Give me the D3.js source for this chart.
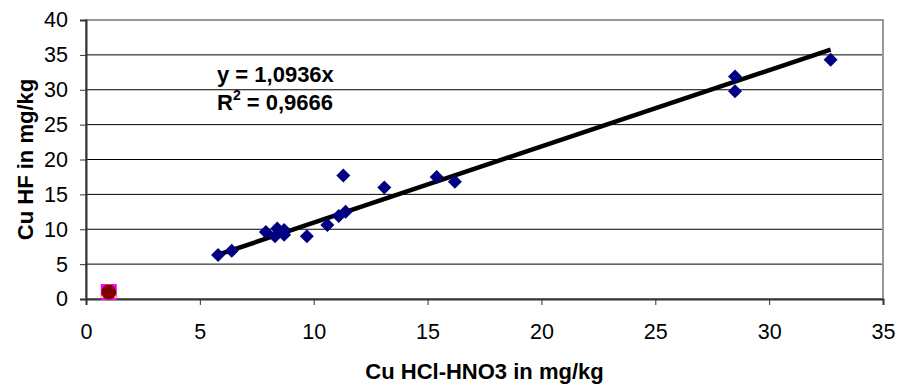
<!DOCTYPE html>
<html>
<head>
<meta charset="utf-8">
<script src="https://cdn.jsdelivr.net/npm/d3@7"></script>
<style>
  body { margin: 0; background: #fff; }
  text { font-family: "Liberation Sans", Arial, sans-serif; fill: #000; }
  .title { font-size: 22px; font-weight: bold; }
  .eq { font-size: 22px; font-weight: bold; }
</style>
</head>
<body>
<div id="chart"></div>
<script>
// measured values (HCl-HNO3 vs HF)
var cuAqua = [5.8, 6.4, 7.9, 8.4, 8.3, 8.7, 8.7, 9.7, 10.6, 11.1, 11.4, 11.3, 13.1, 15.4, 16.2, 28.5, 28.5, 32.7];
var cuHF   = [6.3, 6.9, 9.6, 10.1, 9.0, 9.2, 9.9, 9.0, 10.6, 11.9, 12.5, 17.7, 16.0, 17.5, 16.8, 31.9, 29.8, 34.3];
// extra series sitting on the origin corner
var extraX = [1];
var extraY = [1];
var slope = 1.0936;
var xTicks = [0, 5, 10, 15, 20, 25, 30, 35];
var yTicks = [0, 5, 10, 15, 20, 25, 30, 35, 40];

var width = 901, height = 388;
var margin = { top: 20, right: 18, bottom: 89, left: 86 };
var w = width - margin.left - margin.right,
    h = height - margin.top - margin.bottom;

var svg = d3.select("#chart").append("svg")
    .attr("width", width)
    .attr("height", height);

var g = svg.append("g")
    .attr("transform", "translate(" + margin.left + "," + margin.top + ")");

var x = d3.scaleLinear().domain([0, 35]).range([0, w]);
var y = d3.scaleLinear().domain([0, 40]).range([h, 0]);

// grid lines
g.selectAll(".grid")
  .data(yTicks.filter(function(d) { return d > 0 && d < 40; }))
  .enter().append("line")
    .attr("x1", 0).attr("x2", w)
    .attr("y1", function(d) { return y(d); })
    .attr("y2", function(d) { return y(d); })
    .attr("stroke", "#000")
    .attr("stroke-width", 1);

// plot border (top/right gray)
g.append("rect")
    .attr("x", 0).attr("y", 0)
    .attr("width", w).attr("height", h)
    .attr("fill", "none")
    .attr("stroke", "#999")
    .attr("stroke-width", 2);

// axes
var xAxis = g.append("g")
    .attr("transform", "translate(0," + h + ")")
    .call(d3.axisBottom(x).tickValues(xTicks).tickSize(6).tickPadding(19));
var yAxis = g.append("g")
    .call(d3.axisLeft(y).tickValues(yTicks).tickSize(6).tickPadding(12));

[xAxis, yAxis].forEach(function(a) {
  a.attr("font-size", null).attr("font-family", null);
  a.select(".domain").attr("stroke", "#333").attr("stroke-width", 2);
  a.selectAll(".tick line").attr("stroke", "#333");
  a.selectAll(".tick text").attr("fill", "#000").style("font-size", "21.5px");
});

// trend line
var xmin = d3.min(cuAqua), xmax = d3.max(cuAqua);
g.append("line")
    .attr("x1", x(xmin)).attr("y1", y(slope * xmin))
    .attr("x2", x(xmax)).attr("y2", y(slope * xmax))
    .attr("stroke", "#000")
    .attr("stroke-width", 4.5);

// diamonds
g.selectAll(".dot")
  .data(cuAqua.map(function(v, i) { return [v, cuHF[i]]; }))
  .enter().append("path")
    .attr("d", d3.symbol().type(d3.symbolDiamond2).size(125))
    .attr("transform", function(d) { return "translate(" + x(d[0]) + "," + y(d[1]) + ")"; })
    .attr("fill", "#000080");

// extra series markers at (1,1)
var extra = extraX.map(function(v, i) { return [v, extraY[i]]; });
g.selectAll(".sq").data(extra).enter().append("rect")
    .attr("x", function(d) { return x(d[0]) - 8; })
    .attr("y", function(d) { return y(d[1]) - 8; })
    .attr("width", 16).attr("height", 16)
    .attr("fill", "#ff00ff");
g.selectAll(".tri").data(extra).enter().append("path")
    .attr("d", d3.symbol().type(d3.symbolTriangle).size(120))
    .attr("transform", function(d) { return "translate(" + x(d[0]) + "," + (y(d[1]) + 1) + ")"; })
    .attr("fill", "#ffff00");
g.selectAll(".circ").data(extra).enter().append("circle")
    .attr("cx", function(d) { return x(d[0]); })
    .attr("cy", function(d) { return y(d[1]); })
    .attr("r", 7.5)
    .attr("fill", "#800000");

// equation labels
g.append("text").attr("class", "eq")
    .attr("x", 131).attr("y", 62)
    .text("y = 1,0936x");
var r2 = g.append("text").attr("class", "eq")
    .attr("x", 131).attr("y", 90);
r2.append("tspan").text("R");
r2.append("tspan").attr("dy", -10).style("font-size", "14px").text("2");
r2.append("tspan").attr("dy", 10).text(" = 0,9666");

// axis titles
svg.append("text").attr("class", "title")
    .attr("x", margin.left + w / 2).attr("y", 379)
    .attr("text-anchor", "middle")
    .text("Cu HCl-HNO3 in mg/kg");
svg.append("text").attr("class", "title")
    .attr("transform", "translate(33," + (margin.top + h / 2) + ") rotate(-90)")
    .attr("text-anchor", "middle")
    .text("Cu HF in mg/kg");
</script>
</body>
</html>
